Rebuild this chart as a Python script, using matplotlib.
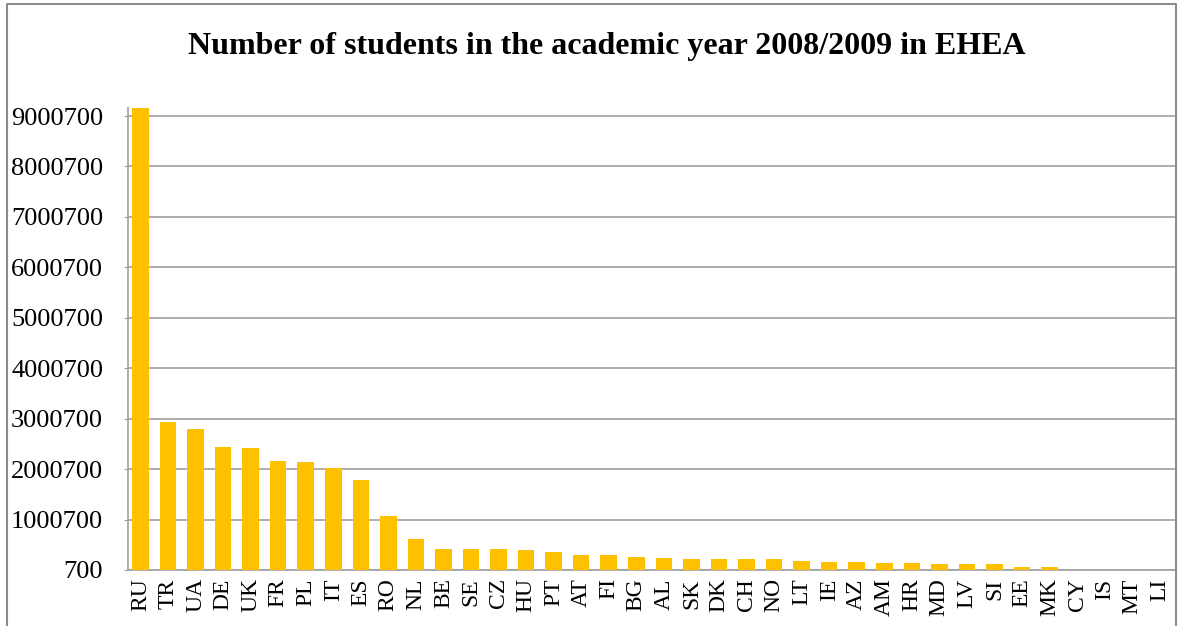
import matplotlib.pyplot as plt
from matplotlib.lines import Line2D

countries = ['RU', 'TR', 'UA', 'DE', 'UK', 'FR', 'PL', 'IT', 'ES', 'RO',
             'NL', 'BE', 'SE', 'CZ', 'HU', 'PT', 'AT', 'FI', 'BG', 'AL',
             'SK', 'DK', 'CH', 'NO', 'LT', 'IE', 'AZ', 'AM', 'HR', 'MD',
             'LV', 'SI', 'EE', 'MK', 'CY', 'IS', 'MT', 'LI']
students = [9170000, 2930000, 2800000, 2440000, 2420000, 2170000, 2140000, 2020000, 1780000, 1070000,
            615000, 410000, 410000, 410000, 390000, 363000, 290000, 290000, 258000, 238000,
            210000, 210000, 210000, 210000, 185000, 159000, 159000, 139000, 139000, 113000,
            113000, 113000, 60000, 60000, 9000, 7000, 5000, 800]
y_ticks = [700 + k * 1000000 for k in range(10)]

fig = plt.figure(figsize=(11.82, 6.26), dpi=100)
ax = fig.add_axes([0.1083, 0.0895, 0.8857, 0.738])

x = range(len(countries))
ax.bar(x, students, width=0.6, color='#FFC000', zorder=3)

ax.set_xlim(-0.45, len(countries) - 0.45)
ax.set_ylim(700, 9160700)
ax.set_yticks(y_ticks)
ax.set_yticklabels([str(v) for v in y_ticks], fontsize=19, family='Liberation Serif')
ax.set_xticks(list(x))
ax.set_xticklabels(countries, rotation=90, fontsize=17, family='Liberation Serif')
ax.tick_params(axis='x', length=0, pad=6)
ax.tick_params(axis='y', length=3, color='#a0a0a0', pad=15)

ax.grid(axis='y', color='#a0a0a0', linewidth=1.2, zorder=0)
for s in ['top', 'right']:
    ax.spines[s].set_visible(False)
ax.spines['left'].set_color('#a0a0a0')
ax.spines['bottom'].set_color('#a0a0a0')
ax.spines['left'].set_linewidth(1.2)
ax.spines['bottom'].set_linewidth(1.2)

fig.text(0.513, 0.926, 'Number of students in the academic year 2008/2009 in EHEA',
         ha='center', va='center', fontsize=23, fontweight='bold', family='Liberation Serif')

# rand oko cijele slike
bx = [0.006, 0.006, 0.995, 0.995]
by = [0.0, 0.994, 0.994, 0.0]
fig.add_artist(Line2D(bx, by, transform=fig.transFigure, color='#8c8c8c', linewidth=1.5))

fig.savefig('out.png', dpi=100)
